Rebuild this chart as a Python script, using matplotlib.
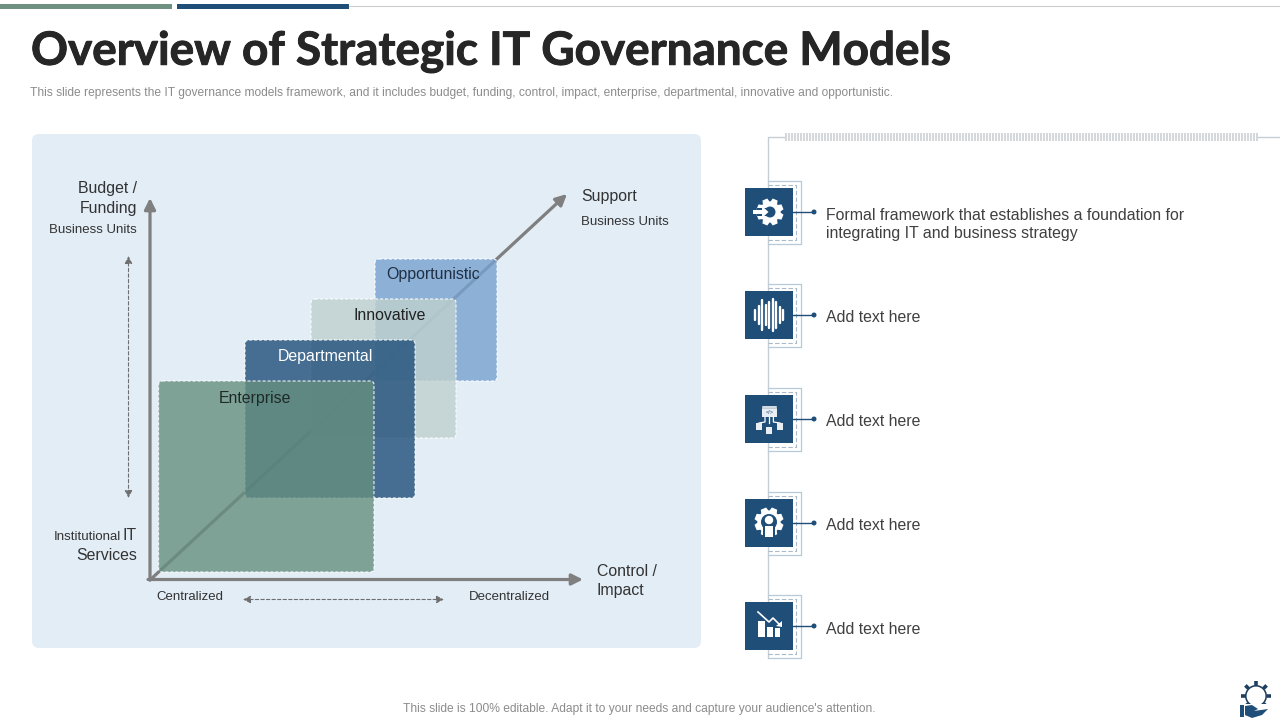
import numpy as np
import matplotlib
matplotlib.use('Agg')
import matplotlib.pyplot as plt
from matplotlib.colors import to_rgba
from matplotlib.patches import Circle, FancyBboxPatch, Polygon, Rectangle, Wedge
import matplotlib.patheffects as pe

title = 'Overview of Strategic IT Governance Models'
subtitle = ('This slide represents the IT governance models framework, and it includes budget, '
            'funding, control, impact, enterprise, departmental, innovative and opportunistic.')
footer = "This slide is 100% editable. Adapt it to your needs and capture your audience's attention."
models = ['Opportunistic', 'Innovative', 'Departmental', 'Enterprise']
model_colors = ['#78A2CF', '#BFD1CE', '#1F4E79', '#668F7F']
model_text = ['#1F2F45', '#222222', '#FFFFFF', '#1F2A28']
notes = ['Formal framework that establishes a foundation for\nintegrating IT and business strategy',
         'Add text here', 'Add text here', 'Add text here', 'Add text here']

NAVY = '#1F4E79'
GREY = '#7F7F7F'
BODY = 'Liberation Sans'

plt.rcParams['font.family'] = BODY
fig = plt.figure(figsize=(12.8, 7.2), dpi=100)
ax = fig.add_axes([0, 0, 1, 1])
ax.set_xlim(0, 1280)
ax.set_ylim(720, 0)
ax.axis('off')


def label(x, y, s, size=11.4, color='#333333', ha='left', va='center', **kw):
    ax.text(x, y, s, fontsize=size, color=color, ha=ha, va=va, **kw)


def gear(cx, cy, r, color, hole=None, teeth=8, tooth=3):
    for a in np.arange(teeth) * 2 * np.pi / teeth + np.pi / teeth:
        ca, sa = np.cos(a), np.sin(a)
        w = r * 0.36
        pts = [(cx + (r * 0.85) * ca - w * sa, cy + (r * 0.85) * sa + w * ca),
               (cx + (r + tooth) * ca - w * 0.7 * sa, cy + (r + tooth) * sa + w * 0.7 * ca),
               (cx + (r + tooth) * ca + w * 0.7 * sa, cy + (r + tooth) * sa - w * 0.7 * ca),
               (cx + (r * 0.85) * ca + w * sa, cy + (r * 0.85) * sa - w * ca)]
        ax.add_patch(Polygon(pts, fc=color, ec='none', zorder=6))
    ax.add_patch(Circle((cx, cy), r, fc=color, ec='none', zorder=6))
    if hole:
        ax.add_patch(Circle((cx, cy), hole[0], fc=hole[1], ec='none', zorder=6))


def icon_gear_arrow(cx, cy):
    gear(cx + 1, cy, 10.5, 'white', hole=(5.5, NAVY))
    ax.add_patch(Rectangle((cx - 12, cy - 4), 10, 8, fc=NAVY, ec='none', zorder=7))
    ax.add_patch(Rectangle((cx - 16, cy - 1.7), 10, 3.4, fc='white', ec='none', zorder=8))
    ax.add_patch(Polygon([(cx - 7, cy - 6), (cx - 0.5, cy), (cx - 7, cy + 6)], fc='white', ec='none', zorder=8))


def icon_wave(cx, cy):
    heights = [5, 9, 15, 10, 13, 16, 13, 8, 5]
    for i, h in enumerate(heights):
        x = cx - 14 + i * 3.5
        ax.plot([x, x], [cy - h, cy + h], color='white', lw=1.7, solid_capstyle='round', zorder=6)


def icon_network(cx, cy):
    ax.add_patch(Rectangle((cx - 7, cy - 13), 15, 11, fc='#E8EEF2', ec='none', zorder=6))
    ax.add_patch(Rectangle((cx - 7, cy - 13), 15, 2, fc='white', ec=NAVY, lw=0.3, zorder=7))
    label(cx + 0.5, cy - 6, '</>', size=4, color=NAVY, ha='center', zorder=8)
    for dx in (-10, 0, 11):
        ax.plot([cx + dx * 0.4, cx + dx * 0.4, cx + dx], [cy - 2, cy + 3, cy + 4], color='white', lw=0.9, zorder=6)
        ax.add_patch(Rectangle((cx + dx - 3.3, cy + 4 + (4 if dx == 0 else 0)), 6.6, 6.6, fc='#E8EEF2', ec='none', zorder=6))


def icon_person(cx, cy):
    gear(cx, cy - 1, 11.5, 'white', hole=(8, NAVY), teeth=8, tooth=3)
    ax.add_patch(Rectangle((cx - 6, cy + 3), 12, 13, fc=NAVY, ec='none', zorder=7))
    ax.add_patch(Circle((cx, cy - 3), 4.2, fc='white', ec='none', zorder=8))
    ax.add_patch(Rectangle((cx - 4, cy + 3), 8, 11, fc='white', ec='none', zorder=8))


def icon_bars(cx, cy):
    for dx, top, w in [(-11, -5, 7), (-2, 1, 6), (6, 2, 5)]:
        ax.add_patch(Rectangle((cx + dx, cy + top), w, 11 - top, fc='white', ec='none', zorder=6))
    ax.plot([cx - 11, cx, cx + 4, cx + 11], [cy - 14, cy - 4, cy - 8, cy - 1], color='white', lw=1.2, zorder=6)
    ax.add_patch(Polygon([(cx + 13, cy + 1), (cx + 13, cy - 5), (cx + 7, cy)], fc='white', ec='none', zorder=6))


# header
ax.add_patch(Rectangle((0, 4), 172, 4.5, fc='#6E9182', ec='none'))
ax.add_patch(Rectangle((177, 4), 172, 4.5, fc=NAVY, ec='none'))
ax.plot([349, 1280], [6, 6], color='#C9CDD0', lw=0.8)
ax.text(31, 52, title, fontsize=33, fontweight='bold', family='Lato', color='#262626', va='center',
        path_effects=[pe.withStroke(linewidth=0.7, foreground='#262626')])
label(30, 93, subtitle, size=8.66, color='#8C8C8C')
label(639, 709, footer, size=8.66, color='#8C8C8C', ha='center')

# left panel
ax.add_patch(FancyBboxPatch((32, 134), 669, 514, boxstyle='round,pad=0,rounding_size=7', fc='#E3EDF6', ec='none'))


def arrow(start, end, color=GREY, lw=2.3, scale=11, head='-|>,head_length=0.6,head_width=0.3', ls='-', zorder=2):
    ax.annotate('', xy=end, xytext=start, zorder=zorder,
                arrowprops=dict(arrowstyle=head, color=color, lw=lw, ls=ls, mutation_scale=scale,
                                shrinkA=0, shrinkB=0))


arrow((150, 580), (567, 194))
arrow((150, 580), (150, 198))
arrow((148, 579.5), (583, 579.5))
thin_head = '<|-|>,head_length=0.5,head_width=0.25'
arrow((128.5, 256), (128.5, 498), color='#6F6F6F', lw=0.8, head=thin_head, ls=(0, (3, 2)), scale=9)
arrow((243, 599.5), (444, 599.5), color='#6F6F6F', lw=0.8, head=thin_head, ls=(0, (3, 2)), scale=9)

box_x = [375, 311, 245, 158.5]
box_y = [259, 299, 340, 381]
box_w = [122, 145, 170, 215.5]
box_h = [122, 139, 158, 191]
label_x = [433, 389.5, 325, 255]
label_y = [275, 316, 357, 398]
for i, name in enumerate(models):
    ax.add_patch(FancyBboxPatch((box_x[i], box_y[i]), box_w[i], box_h[i],
                                boxstyle='round,pad=0,rounding_size=4',
                                fc=to_rgba(model_colors[i], 0.8), ec='none', zorder=3 + i * 0.1))
    ax.add_patch(FancyBboxPatch((box_x[i], box_y[i]), box_w[i], box_h[i],
                                boxstyle='round,pad=0,rounding_size=4',
                                fc='none', ec=to_rgba('white', 0.8), lw=0.9, ls=(0, (2.5, 1.5)), zorder=3 + i * 0.1))
for i, name in enumerate(models):
    label(label_x[i], label_y[i], name, size=11.4, color=model_text[i], ha='center', zorder=5)

label(137, 188.5, 'Budget /', ha='right')
label(137, 208, 'Funding', ha='right')
label(137, 230, 'Business Units', size=9.5, ha='right')
label(121, 537, 'Institutional', size=9.5, ha='right')
label(137, 536, 'IT', ha='right')
label(137, 555, 'Services', ha='right')
label(581, 197, 'Support')
label(581, 222, 'Business Units', size=9.5)
label(597, 571, 'Control /')
label(597, 590, 'Impact')
label(156, 597, 'Centralized', size=9.5)
label(469, 597, 'Decentralized', size=9.5)

# right column
ax.plot([785, 768, 768], [137, 137, 657], color='#C5CED4', lw=1, zorder=1)
ax.vlines(np.arange(786, 1259, 3), 133, 141, color='#D0D4D7', lw=1.3)
ax.plot([1258, 1280], [137, 137], color='#C5CED4', lw=1)

icon_y = [212, 315, 419, 523, 626]
text_y = [224.5, 318, 422, 526, 629]
icons = [icon_gear_arrow, icon_wave, icon_network, icon_person, icon_bars]
for cy, ty, note, draw in zip(icon_y, text_y, notes, icons):
    ax.plot([768, 800.5, 800.5, 768], [cy - 31.5, cy - 31.5, cy + 31.5, cy + 31.5], color='#B7CAD8', lw=0.9, zorder=2)
    ax.plot([768, 796, 796, 768], [cy - 27.5, cy - 27.5, cy + 27.5, cy + 27.5], color='#A9BBC8', lw=0.8,
            ls=(0, (4, 2)), zorder=2)
    ax.add_patch(Rectangle((745, cy - 24), 48, 48, fc=NAVY, ec='none', zorder=4))
    ax.plot([793, 814], [cy, cy], color=NAVY, lw=1, zorder=4)
    ax.add_patch(Circle((814, cy), 2.5, fc=NAVY, ec='none', zorder=4))
    draw(769, cy)
    label(826, ty, note, size=11.4, color='#404040', linespacing=1.3)

# corner logo
ring = Wedge((1256, 696), 11, 0, 360, width=1.6, fc='#1F3F5F', ec='none')
ax.add_patch(ring)
for a in np.arange(8) * np.pi / 4:
    ax.plot([1256 + 10.5 * np.cos(a), 1256 + 15 * np.cos(a)], [696 + 10.5 * np.sin(a), 696 + 15 * np.sin(a)],
            color='#1F3F5F', lw=2.6, solid_capstyle='butt')
ax.add_patch(Polygon([(1238, 704), (1276, 704), (1276, 720), (1238, 720)], fc='white', ec='none', zorder=5))
ax.add_patch(Rectangle((1240, 705), 4, 12, fc=NAVY, ec='none', zorder=6))
ax.add_patch(Polygon([(1245, 706), (1252, 705), (1258, 709), (1254, 711), (1268, 709), (1262, 715), (1252, 718), (1245, 715)],
                     fc=NAVY, ec='none', zorder=6))

fig.savefig('out.png', dpi=100)
